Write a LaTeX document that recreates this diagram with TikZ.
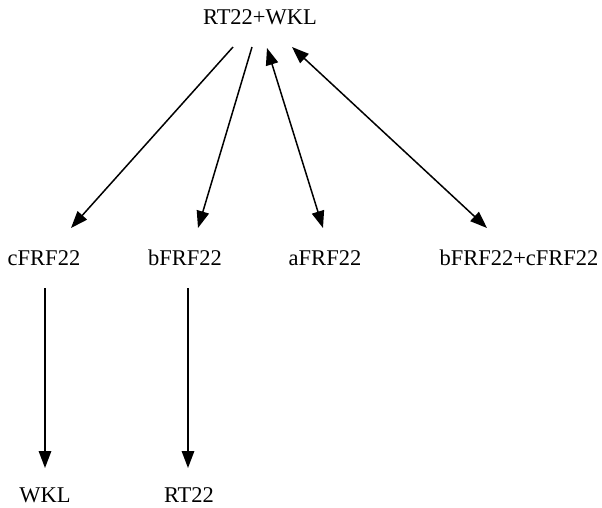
\documentclass[tikz,border=0pt]{standalone}
\usepackage{fontspec}
\setmainfont{Liberation Serif}
\usetikzlibrary{arrows.meta,calc}
\tikzset{
  lbl/.style={inner sep=0pt, font=\fontsize{22.5}{26}\selectfont},
  tip/.style={},
  edge/.style={line width=1.5pt, -{Triangle[length=17pt,width=12.5pt]}},
  bedge/.style={line width=1.5pt, {Triangle[length=17pt,width=12.5pt]}-{Triangle[length=17pt,width=12.5pt]}}
}
\begin{document}
\begin{tikzpicture}[x=1pt,y=-1pt]
\useasboundingbox[fill=white] (0,0) rectangle (602,507);
\node[lbl] (top) at (260,17) {RT22+WKL};
\node[lbl] (c) at (44,258) {cFRF22};
\node[lbl] (b) at (185,258) {bFRF22};
\node[lbl] (a) at (325,258) {aFRF22};
\node[lbl] (bc) at (519,258) {bFRF22+cFRF22};
\node[lbl] (wkl) at (45,495) {WKL};
\node[lbl] (rt) at (189,495) {RT22};
\draw[edge] ($(top)+(-27,30)$) -- ($(c)+(27,-30)$);
\draw[edge] ($(top)+(-8,30)$) -- ($(b)+(13,-30)$);
\draw[bedge] ($(top)+(7,31)$) -- ($(a)+(-2,-30)$);
\draw[bedge] ($(top)+(32,30)$) -- ($(bc)+(-32,-30)$);
\draw[edge] ($(c)+(1,30)$) -- ($(wkl)+(0,-27)$);
\draw[edge] ($(b)+(3,30)$) -- ($(rt)+(-1,-27)$);
\end{tikzpicture}
\end{document}
